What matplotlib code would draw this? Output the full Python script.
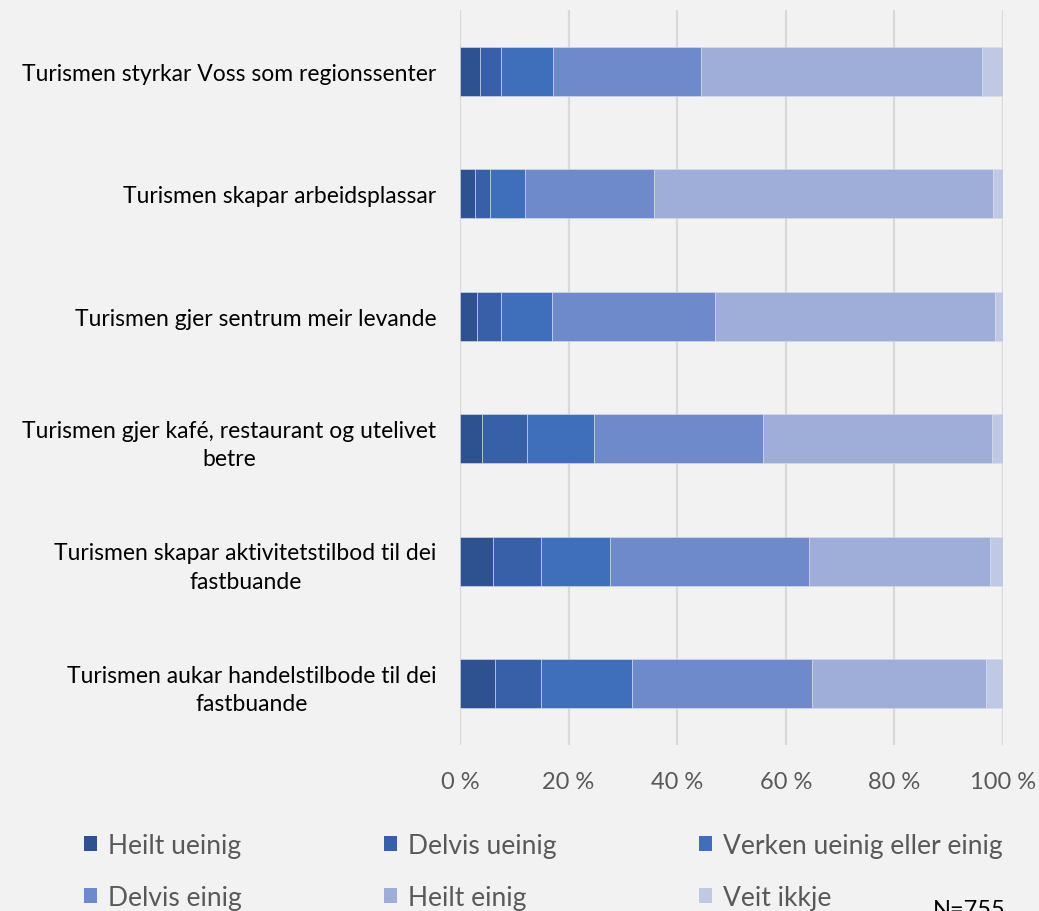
import matplotlib.pyplot as plt
import numpy as np
from matplotlib.patches import Patch

categories = [
    "Turismen styrkar Voss som regionssenter",
    "Turismen skapar arbeidsplassar",
    "Turismen gjer sentrum meir levande",
    "Turismen gjer kafé, restaurant og utelivet\nbetre",
    "Turismen skapar aktivitetstilbod til dei\nfastbuande",
    "Turismen aukar handelstilbode til dei\nfastbuande",
]
series_names = ["Heilt ueinig", "Delvis ueinig", "Verken ueinig eller einig",
                "Delvis einig", "Heilt einig", "Veit ikkje"]
heilt_ueinig = [3.7, 2.8, 3.2, 4.1, 6.1, 6.5]
delvis_ueinig = [3.9, 2.7, 4.4, 8.3, 8.9, 8.5]
verken = [9.6, 6.5, 9.4, 12.3, 12.6, 16.6]
delvis_einig = [27.2, 23.7, 30.0, 31.2, 36.6, 33.3]
heilt_einig = [51.8, 62.5, 51.6, 42.1, 33.4, 32.0]
veit_ikkje = [3.8, 1.8, 1.4, 2.0, 2.4, 3.1]
xticks = [0, 20, 40, 60, 80, 100]
xtick_labels = ["0 %", "20 %", "40 %", "60 %", "80 %", "100 %"]

colors = ["#2E528F", "#3760A8", "#3F6EBB", "#6E8ACB", "#9EAED8", "#BFC9E4"]
bg = "#F2F2F2"

plt.rcParams['font.family'] = ['Lato', 'DejaVu Sans']

fig = plt.figure(figsize=(10.39, 9.12), dpi=100, facecolor=bg)
ax = fig.add_axes([0.4427, 0.182, 0.5226, 0.806], facecolor=bg)

data = [heilt_ueinig, delvis_ueinig, verken, delvis_einig, heilt_einig, veit_ikkje]
y = np.arange(len(categories))
left = np.zeros(len(categories))
handles = []
for vals, name, col in zip(data, series_names, colors):
    vals = np.array(vals)
    ax.barh(y, vals, left=left, height=0.4, color=col, edgecolor='#D9DEEE',
            linewidth=0.4, label=name, zorder=3)
    left += vals
    handles.append(Patch(facecolor=col, label=name))

ax.set_xlim(0, 100)
ax.set_ylim(5.5, -0.5)
ax.set_yticks(y)
ax.set_yticklabels(categories, fontsize=16.5, color='black')
for lab in ax.get_yticklabels():
    lab.set_multialignment('center')
    lab.set_linespacing(1.45)
ax.set_xticks(xticks)
ax.set_xticklabels(xtick_labels, fontsize=17, color='#595959')
ax.tick_params(axis='both', length=0)
ax.tick_params(axis='y', pad=17)
ax.tick_params(axis='x', pad=19)
ax.xaxis.grid(True, color='#D9D9D9', linewidth=1.6, zorder=0)
for s in ax.spines.values():
    s.set_visible(False)

# legend is filled column-wise, so reorder to get row order
order = [0, 3, 1, 4, 2, 5]
fig.legend([handles[i] for i in order], [series_names[i] for i in order],
           ncol=3, loc='upper left', bbox_to_anchor=(0.058, 0.112),
           frameon=False, fontsize=19, labelcolor='#595959',
           handlelength=0.5, handleheight=0.5, handletextpad=0.4,
           columnspacing=5.4, labelspacing=1.05)

fig.text(0.898, 0.013, "N=755", fontsize=17, color='black', va='top')

fig.savefig("out.png", dpi=100, facecolor=bg)
